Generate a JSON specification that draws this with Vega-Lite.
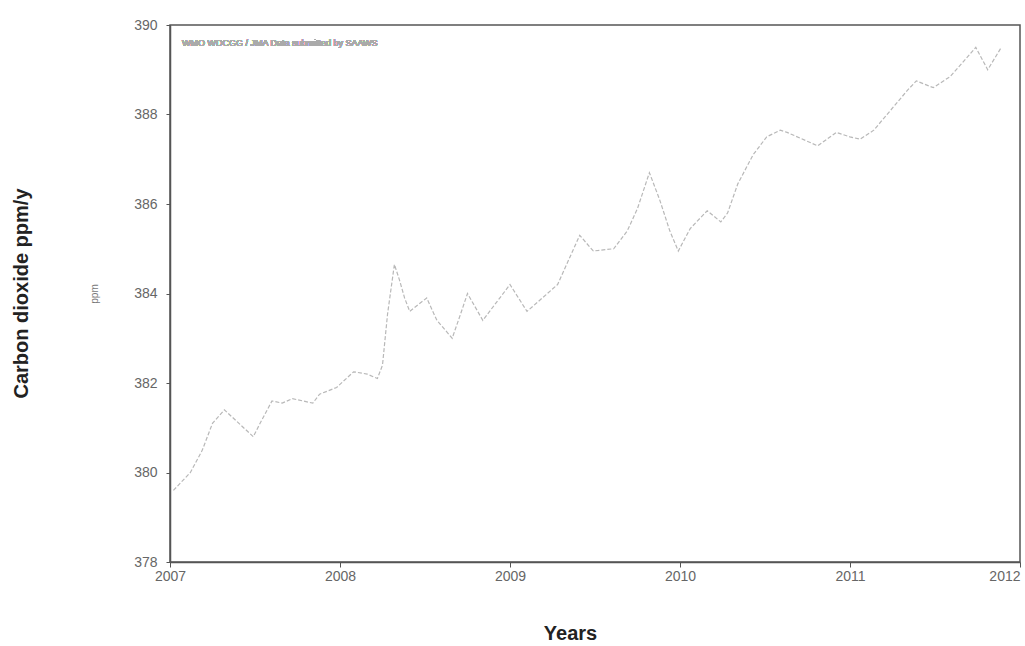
{
  "$schema": "https://vega.github.io/schema/vega-lite/v6.json",
  "width": 850,
  "height": 537,
  "autosize": {"type": "none"},
  "padding": {"left": 170, "top": 25, "right": 5, "bottom": 84},
  "background": "white",
  "title": {
    "text": "Carbon dioxide ppm/y",
    "orient": "left",
    "anchor": "middle",
    "font": "Liberation Sans",
    "fontSize": 20,
    "fontWeight": "bold",
    "color": "#222",
    "offset": 58
  },
  "config": {
    "view": {"stroke": "#555", "strokeWidth": 1.5},
    "axis": {
      "labelFont": "Liberation Sans",
      "labelFontSize": 14,
      "labelColor": "#666",
      "titleFont": "Liberation Sans",
      "domainColor": "#555",
      "domainWidth": 1.5,
      "tickColor": "#555",
      "grid": false
    }
  },
  "data": {
    "values": [
      {"year": 2007.02, "co2": 379.6},
      {"year": 2007.12, "co2": 380.0},
      {"year": 2007.19, "co2": 380.5},
      {"year": 2007.25, "co2": 381.1},
      {"year": 2007.32, "co2": 381.4},
      {"year": 2007.49, "co2": 380.8},
      {"year": 2007.53, "co2": 381.1},
      {"year": 2007.60, "co2": 381.6},
      {"year": 2007.66, "co2": 381.55},
      {"year": 2007.72, "co2": 381.65},
      {"year": 2007.78, "co2": 381.6},
      {"year": 2007.84, "co2": 381.55},
      {"year": 2007.88, "co2": 381.75},
      {"year": 2007.98, "co2": 381.9},
      {"year": 2008.08, "co2": 382.25},
      {"year": 2008.16, "co2": 382.2},
      {"year": 2008.22, "co2": 382.1},
      {"year": 2008.25, "co2": 382.4},
      {"year": 2008.28, "co2": 383.55},
      {"year": 2008.32, "co2": 384.65},
      {"year": 2008.35, "co2": 384.3},
      {"year": 2008.38, "co2": 383.9},
      {"year": 2008.41, "co2": 383.6},
      {"year": 2008.51, "co2": 383.9},
      {"year": 2008.57, "co2": 383.4},
      {"year": 2008.66, "co2": 383.0},
      {"year": 2008.71, "co2": 383.55},
      {"year": 2008.75, "co2": 384.0},
      {"year": 2008.84, "co2": 383.4},
      {"year": 2009.00, "co2": 384.2},
      {"year": 2009.10, "co2": 383.6},
      {"year": 2009.28, "co2": 384.2},
      {"year": 2009.41, "co2": 385.3},
      {"year": 2009.49, "co2": 384.95},
      {"year": 2009.61, "co2": 385.0},
      {"year": 2009.69, "co2": 385.4},
      {"year": 2009.75, "co2": 385.9},
      {"year": 2009.82, "co2": 386.7},
      {"year": 2009.88, "co2": 386.1},
      {"year": 2009.94, "co2": 385.4},
      {"year": 2009.99, "co2": 384.95},
      {"year": 2010.06, "co2": 385.45},
      {"year": 2010.16, "co2": 385.85},
      {"year": 2010.24, "co2": 385.6},
      {"year": 2010.28, "co2": 385.8},
      {"year": 2010.34, "co2": 386.45},
      {"year": 2010.43, "co2": 387.1},
      {"year": 2010.51, "co2": 387.5},
      {"year": 2010.59, "co2": 387.65},
      {"year": 2010.63, "co2": 387.6},
      {"year": 2010.81, "co2": 387.3},
      {"year": 2010.92, "co2": 387.6},
      {"year": 2011.00, "co2": 387.5},
      {"year": 2011.06, "co2": 387.45},
      {"year": 2011.14, "co2": 387.65},
      {"year": 2011.24, "co2": 388.1},
      {"year": 2011.34, "co2": 388.55},
      {"year": 2011.39, "co2": 388.75},
      {"year": 2011.49, "co2": 388.6},
      {"year": 2011.59, "co2": 388.85},
      {"year": 2011.66, "co2": 389.15},
      {"year": 2011.74, "co2": 389.5},
      {"year": 2011.81, "co2": 389.0},
      {"year": 2011.89, "co2": 389.5}
    ]
  },
  "layer": [
    {
      "mark": {"type": "line", "color": "#b8b8b8", "strokeWidth": 1.2, "strokeDash": [4, 2]},
      "encoding": {
        "x": {
          "field": "year",
          "type": "quantitative",
          "scale": {"domain": [2007, 2012], "nice": false, "zero": false},
          "axis": {
            "values": [2007, 2008, 2009, 2010, 2011, 2012],
            "format": "d",
            "tickSize": 5,
            "labelPadding": 2,
            "labelAlign": {"condition": {"test": "datum.value == 2012", "value": "right"}, "value": "center"},
            "title": "Years",
            "titleFontSize": 20,
            "titleFontWeight": "bold",
            "titleColor": "#222",
            "titlePadding": 40,
            "titleX": 400
          }
        },
        "y": {
          "field": "co2",
          "type": "quantitative",
          "scale": {"domain": [378, 390], "nice": false, "zero": false},
          "axis": {
            "values": [378, 380, 382, 384, 386, 388, 390],
            "tickSize": 4,
            "labelPadding": 9,
            "title": "ppm",
            "titleFontSize": 10,
            "titleFontWeight": "normal",
            "titleColor": "#777",
            "titlePadding": 34
          }
        }
      }
    },
    {
      "mark": {"type": "text", "align": "left", "baseline": "middle", "font": "Liberation Sans", "fontSize": 9, "color": "#aaa"},
      "encoding": {
        "x": {"datum": 2007.07},
        "y": {"datum": 389.6},
        "text": {"value": "WMO WDCGG / JMA   Data submitted by SAAWS"}
      }
    }
  ]
}
